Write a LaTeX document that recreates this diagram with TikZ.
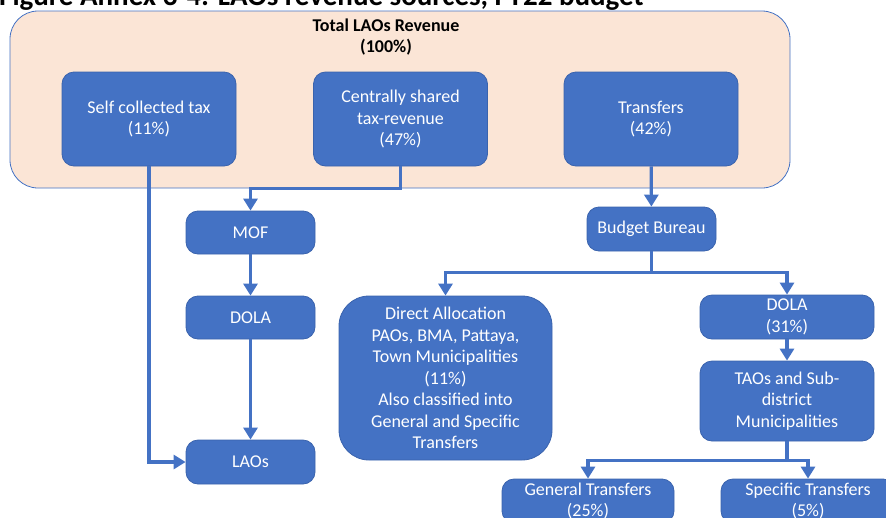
\documentclass[tikz,border=0pt]{standalone}
\usepackage{fontspec}
\setmainfont{Carlito}
\usetikzlibrary{arrows.meta}
\definecolor{boxblue}{HTML}{4472C4}
\definecolor{boxedge}{HTML}{3A63AD}
\definecolor{peach}{HTML}{FBE5D6}
\begin{document}
\begin{tikzpicture}[x=1pt,y=-1pt,
  blk/.style={draw=boxedge, line width=0.8pt, fill=boxblue, text=white,
    rounded corners=12pt, align=center, inner sep=0pt,
    font=\fontsize{18}{21.5}\selectfont},
  container/.style={draw=boxblue, line width=0.8pt, fill=peach,
    rounded corners=28pt, inner sep=0pt},
  flow/.style={draw=boxblue, line width=3.2pt, line join=miter,
    -{Triangle[width=14pt,length=12pt]}},
  link/.style={draw=boxblue, line width=3.2pt}
]
\useasboundingbox (0,0) rectangle (886,517);
\clip (0,0) rectangle (886,517);

% caption
\node[anchor=base west, inner sep=0pt, font=\bfseries\fontsize{29}{29}\selectfont]
  (caption) at (-1,5) {Figure Annex 3-4: LAOs revenue sources, FY22 budget};

% revenue container
\node[container, minimum width=780pt, minimum height=177pt] (total) at (400,99.5) {};
\node[align=center, inner sep=0pt, font=\bfseries\fontsize{18}{21}\selectfont]
  (totlabel) at (386,37) {Total LAOs Revenue\\(100\%)};

% revenue sources
\node[blk, minimum width=174pt, minimum height=94pt] (self) at (149,119) {Self collected tax\\(11\%)};
\node[blk, minimum width=174pt, minimum height=94pt] (cent) at (400.5,119) {Centrally shared\\tax-revenue\\(47\%)};
\node[blk, minimum width=174pt, minimum height=94pt] (trans) at (651,119) {Transfers\\(42\%)};

% left chain
\node[blk, minimum width=129pt, minimum height=43pt] (mof) at (250.5,232.5) {MOF};
\node[blk, minimum width=129pt, minimum height=43pt] (dolal) at (250.5,317.5) {DOLA};
\node[blk, minimum width=129pt, minimum height=44pt] (laos) at (250.5,462) {LAOs};

% transfer chain
\node[blk, minimum width=129pt, minimum height=44pt] (bb) at (651.5,229) {Budget Bureau};
\node[blk, rounded corners=30pt, minimum width=213pt, minimum height=164pt] (direct) at (445.5,378)
  {Direct Allocation\\PAOs, BMA, Pattaya,\\Town Municipalities\\(11\%)\\Also classified into\\General and Specific\\Transfers};
\node[blk, minimum width=174pt, minimum height=44pt] (dolar) at (787,317) {DOLA\\(31\%)};
\node[blk, minimum width=174pt, minimum height=80pt] (taos) at (787,401) {TAOs and Sub-\\district\\Municipalities};
\node[blk, minimum width=172pt, minimum height=44pt] (gen) at (588,501) {General Transfers\\(25\%)};
\node[blk, minimum width=174pt, minimum height=44pt] (spec) at (808,501) {Specific Transfers\\(5\%)};

% connectors
\draw[flow] (self.south) |- (laos.west);
\draw[flow] (cent.south) -- ++(0,22) -| (mof.north);
\draw[flow] (mof) -- (dolal);
\draw[flow] (dolal) -- (laos);
\draw[flow] (trans) -- (bb);
\draw[link] (bb.south) -- ++(0,21) coordinate (bbfork);
\draw[flow] (bbfork) -| (direct.north);
\draw[flow] (bbfork) -| (dolar.north);
\draw[flow] (dolar) -- (taos);
\draw[link] (taos.south) -- ++(0,19) coordinate (taosfork);
\draw[flow] (taosfork) -| (gen.north);
\draw[flow] (taosfork) -| (spec.north);
\end{tikzpicture}
\end{document}
